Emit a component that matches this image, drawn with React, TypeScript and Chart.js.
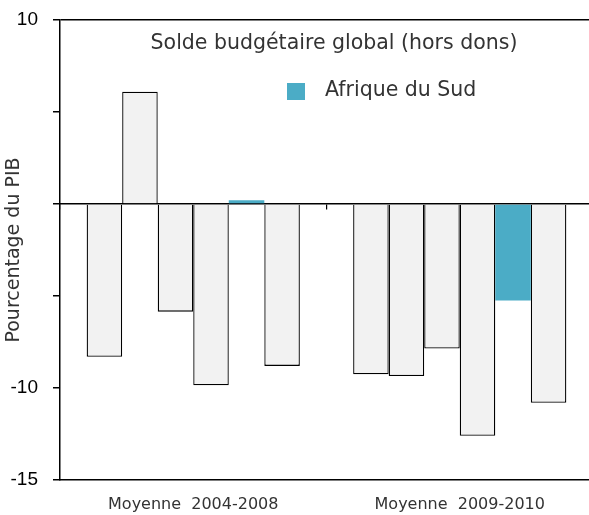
import React, { useEffect, useRef } from 'react';
import { Chart, registerables } from 'chart.js';

Chart.register(...registerables);

// ---- Data ----
const categories = ['Moyenne  2004-2008', 'Moyenne  2009-2010'];
const seriesNames = ['Pays 1', 'Pays 2', 'Pays 3', 'Pays 4', 'Afrique du Sud', 'Pays 6'];
const pays1 = [-8.3, -9.25];
const pays2 = [6.1, -9.35];
const pays3 = [-5.85, -7.85];
const pays4 = [-9.85, -12.6];
const afriqueDuSud = [0.2, -5.25];
const pays6 = [-8.8, -10.8];
const seriesValues = [pays1, pays2, pays3, pays4, afriqueDuSud, pays6];
const highlighted = 'Afrique du Sud';
const yLabelledTicks = [10, -10, -15];
const chartTitle = 'Solde budgétaire global (hors dons)';
const yAxisTitle = 'Pourcentage du PIB';

const GREY = '#f2f2f2';
const TEAL = '#4bacc6';
const TEXT = '#333333';
const LABEL_FONT = '"DejaVu Sans", sans-serif';

const insideTitleLegend = {
  id: 'insideTitleLegend',
  afterDraw(chart: any) {
    const { ctx, chartArea } = chart;
    ctx.save();
    ctx.fillStyle = TEXT;
    ctx.font = `20.5px ${LABEL_FONT}`;
    ctx.textAlign = 'center';
    ctx.textBaseline = 'middle';
    ctx.fillText(chartTitle, chartArea.left + 274, chartArea.top + 24);
    ctx.fillStyle = TEAL;
    ctx.fillRect(chartArea.left + 227, chartArea.top + 63, 18, 17);
    ctx.fillStyle = TEXT;
    ctx.textAlign = 'left';
    ctx.fillText(highlighted, chartArea.left + 265, chartArea.top + 71);
    ctx.restore();
  },
};

export default function App() {
  const ref = useRef<HTMLCanvasElement | null>(null);

  useEffect(() => {
    if (!ref.current) return;
    const datasets = seriesNames.map((name, i) => {
      const hi = name === highlighted;
      return {
        label: name,
        data: seriesValues[i],
        backgroundColor: hi ? TEAL : GREY,
        borderColor: '#000000',
        borderWidth: hi ? 0 : 1.3,
        barPercentage: 1,
        categoryPercentage: 0.8,
      };
    });
    const chart = new Chart(ref.current, {
      type: 'bar',
      data: { labels: categories, datasets },
      options: {
        animation: false,
        responsive: false,
        devicePixelRatio: 1,
        layout: { padding: { left: 0, right: 7, top: 20, bottom: 0 } },
        plugins: {
          legend: { display: false },
          title: { display: false },
          tooltip: { enabled: false },
        },
        scales: {
          x: {
            type: 'category',
            position: { y: 0 } as any,
            offset: true,
            grid: {
              offset: true,
              drawOnChartArea: false,
              drawTicks: true,
              tickLength: 5,
              color: '#000000',
              lineWidth: 1.2,
            },
            border: { display: true, color: '#000000', width: 1.5 },
            ticks: { display: false },
          },
          x2: {
            type: 'category',
            position: 'bottom',
            offset: true,
            grid: { display: false, offset: true },
            border: { display: true, color: '#000000', width: 1.5 },
            ticks: {
              color: TEXT,
              font: { family: LABEL_FONT, size: 16 },
              padding: 7,
              maxRotation: 0,
              autoSkip: false,
            },
            afterFit: (s: any) => {
              s.height = 35;
              s.paddingLeft = 0;
              s.paddingRight = 0;
            },
          },
          y: {
            min: -15,
            max: 10,
            ticks: {
              stepSize: 5,
              padding: 15,
              color: '#000000',
              font: { family: '"Liberation Sans", Arial, sans-serif', size: 19 },
              callback: (v: any) => (yLabelledTicks.includes(Number(v)) ? String(v) : ''),
            },
            grid: {
              drawOnChartArea: true,
              drawTicks: true,
              tickLength: 7,
              lineWidth: 1.5,
              color: (c: any) => (c.tick && c.tick.value === 10 ? '#000000' : 'rgba(0,0,0,0)'),
              tickColor: '#000000',
            },
            border: { display: true, color: '#000000', width: 1.5 },
            title: {
              display: true,
              text: yAxisTitle,
              color: TEXT,
              font: { family: LABEL_FONT, size: 19 },
              padding: { top: 3, bottom: 0 },
            },
            afterFit: (s: any) => {
              s.width = 60;
              s.paddingTop = 0;
              s.paddingBottom = 0;
            },
          },
        },
      },
      plugins: [insideTitleLegend],
    });
    return () => chart.destroy();
  }, []);

  return (
    <div style={{ position: 'fixed', left: 0, top: 0, width: 589, height: 515, overflow: 'hidden', background: '#fff' }}>
      <canvas ref={ref} width={600} height={515} style={{ display: 'block' }} />
    </div>
  );
}
